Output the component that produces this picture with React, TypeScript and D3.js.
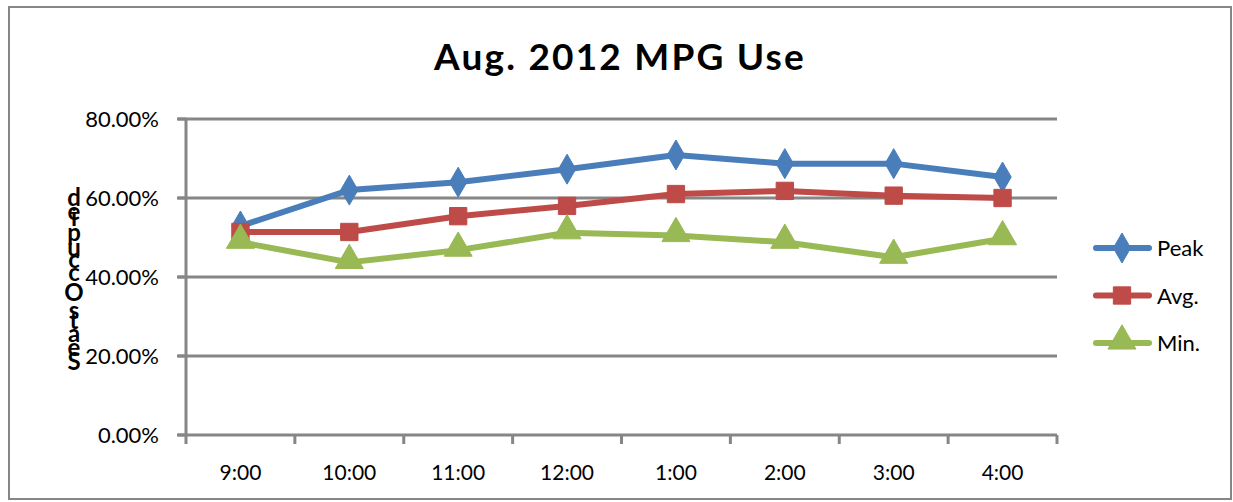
import React, { useEffect, useRef } from 'react';
import * as d3 from 'd3';

const categories = ['9:00', '10:00', '11:00', '12:00', '1:00', '2:00', '3:00', '4:00'];
const peakValues = [0.529, 0.62, 0.64, 0.673, 0.709, 0.687, 0.687, 0.653];
const avgValues = [0.514, 0.514, 0.554, 0.58, 0.61, 0.618, 0.606, 0.6];
const minValues = [0.488, 0.437, 0.468, 0.512, 0.505, 0.488, 0.45, 0.497];
const yTicks = [0, 0.2, 0.4, 0.6, 0.8];
const seriesNames = ['Peak', 'Avg.', 'Min.'];
const seriesColors = ['#4a7ebb', '#be4b48', '#98b954'];
const axisLabel = 'Seats Occupied';
const title = 'Aug. 2012 MPG Use';

const W = 1233;
const H = 502;
const FONT = 'Lato, "Open Sans", sans-serif';

const App: React.FC = () => {
  const svgRef = useRef<SVGSVGElement>(null);

  useEffect(() => {
    if (!svgRef.current) return;
    const svg = d3.select(svgRef.current);
    svg.selectAll('*').remove();

    const x = d3.scaleBand<string>().domain(categories).range([186, 1057]);
    const y = d3.scaleLinear().domain([0, 0.8]).range([435, 119]);
    const grid = '#868686';

    // chart border
    svg.append('rect')
      .attr('x', 9).attr('y', 7)
      .attr('width', 1222).attr('height', 492)
      .attr('fill', 'white')
      .attr('stroke', grid).attr('stroke-width', 2);

    svg.append('text')
      .attr('x', 620).attr('y', 70)
      .attr('text-anchor', 'middle')
      .attr('font-family', FONT)
      .attr('font-weight', 'bold')
      .attr('font-size', 37)
      .attr('letter-spacing', 2.2)
      .text(title);

    // gridlines
    svg.append('g').selectAll('line')
      .data(yTicks.filter(d => d > 0))
      .enter().append('line')
      .attr('x1', 178).attr('x2', 1057)
      .attr('y1', d => y(d)).attr('y2', d => y(d))
      .attr('stroke', grid).attr('stroke-width', 3);

    // y axis
    const yAxis = svg.append('g');
    yAxis.append('line')
      .attr('x1', 186).attr('x2', 186)
      .attr('y1', y(0.8)).attr('y2', y(0))
      .attr('stroke', grid).attr('stroke-width', 3);
    yAxis.selectAll('line.tick')
      .data(yTicks)
      .enter().append('line')
      .attr('class', 'tick')
      .attr('x1', 177).attr('x2', 186)
      .attr('y1', d => y(d)).attr('y2', d => y(d))
      .attr('stroke', grid).attr('stroke-width', 3);
    yAxis.selectAll('text')
      .data(yTicks)
      .enter().append('text')
      .attr('x', 159)
      .attr('y', d => y(d) + 8)
      .attr('text-anchor', 'end')
      .attr('font-family', FONT)
      .attr('font-size', 22)
      .text(d => d3.format('.2%')(d));

    // x axis
    const xAxis = svg.append('g');
    xAxis.append('line')
      .attr('x1', 178).attr('x2', 1057)
      .attr('y1', y(0)).attr('y2', y(0))
      .attr('stroke', grid).attr('stroke-width', 3);
    const edges = [...categories.map(c => x(c)!), 1057];
    xAxis.selectAll('line.tick')
      .data(edges)
      .enter().append('line')
      .attr('class', 'tick')
      .attr('x1', d => d).attr('x2', d => d)
      .attr('y1', y(0)).attr('y2', y(0) + 9)
      .attr('stroke', grid).attr('stroke-width', 3);
    xAxis.selectAll('text')
      .data(categories)
      .enter().append('text')
      .attr('x', d => x(d)! + x.bandwidth() / 2)
      .attr('y', 480)
      .attr('text-anchor', 'middle')
      .attr('font-family', FONT)
      .attr('font-size', 21)
      .text(d => d);

    // broken stacked axis title: upright letters stacked bottom to top
    const ctx = document.createElement('canvas').getContext('2d')!;
    ctx.font = 'bold 24px Lato';
    let pos = 370;
    const letters = axisLabel.split('').map(ch => {
      const p = pos;
      pos -= ctx.measureText(ch).width * 1.08;
      return { ch, p };
    });
    svg.append('g').selectAll('text')
      .data(letters.filter(l => l.ch !== ' '))
      .enter().append('text')
      .attr('x', 74)
      .attr('y', d => d.p)
      .attr('text-anchor', 'middle')
      .attr('font-family', FONT)
      .attr('font-weight', 'bold')
      .attr('font-size', 24)
      .text(d => d.ch);

    const series = [peakValues, avgValues, minValues];
    const symbols = [d3.symbolDiamond, d3.symbolSquare, d3.symbolTriangle];
    const sizes = [260, 300, 340];
    const line = d3.line<number>()
      .x((_, i) => x(categories[i])! + x.bandwidth() / 2)
      .y(d => y(d));

    series.forEach((vals, si) => {
      const g = svg.append('g');
      g.append('path')
        .datum(vals)
        .attr('d', line)
        .attr('fill', 'none')
        .attr('stroke', seriesColors[si])
        .attr('stroke-width', 6)
        .attr('stroke-linejoin', 'round');
      g.selectAll('path.m')
        .data(vals)
        .enter().append('path')
        .attr('class', 'm')
        .attr('transform', (d, i) => {
          const dy = si === 2 ? -2 : 0;
          return `translate(${x(categories[i])! + x.bandwidth() / 2},${y(d) + dy})`;
        })
        .attr('d', d3.symbol().type(symbols[si]).size(sizes[si])())
        .attr('fill', seriesColors[si])
        .attr('stroke', seriesColors[si])
        .attr('stroke-width', 1)
        .attr('stroke-linejoin', 'round');
    });

    // legend
    const legendY = d3.scalePoint<string>().domain(seriesNames).range([248, 343]);
    const legend = svg.append('g');
    seriesNames.forEach((name, si) => {
      const ly = legendY(name)!;
      legend.append('line')
        .attr('x1', 1096).attr('x2', 1149)
        .attr('y1', ly).attr('y2', ly)
        .attr('stroke', seriesColors[si])
        .attr('stroke-width', 6)
        .attr('stroke-linecap', 'round');
      legend.append('path')
        .attr('transform', `translate(1122,${ly + (si === 2 ? -2 : 0)})`)
        .attr('d', d3.symbol().type(symbols[si]).size(sizes[si])())
        .attr('fill', seriesColors[si])
        .attr('stroke', seriesColors[si])
        .attr('stroke-linejoin', 'round');
      legend.append('text')
        .attr('x', 1157)
        .attr('y', ly + 8)
        .attr('font-family', FONT)
        .attr('font-size', 22)
        .text(name);
    });
  }, []);

  return (
    <div style={{ position: 'absolute', left: 0, top: 0 }}>
      <svg ref={svgRef} width={W} height={H} style={{ display: 'block', background: 'white' }} />
    </div>
  );
};

export default App;
